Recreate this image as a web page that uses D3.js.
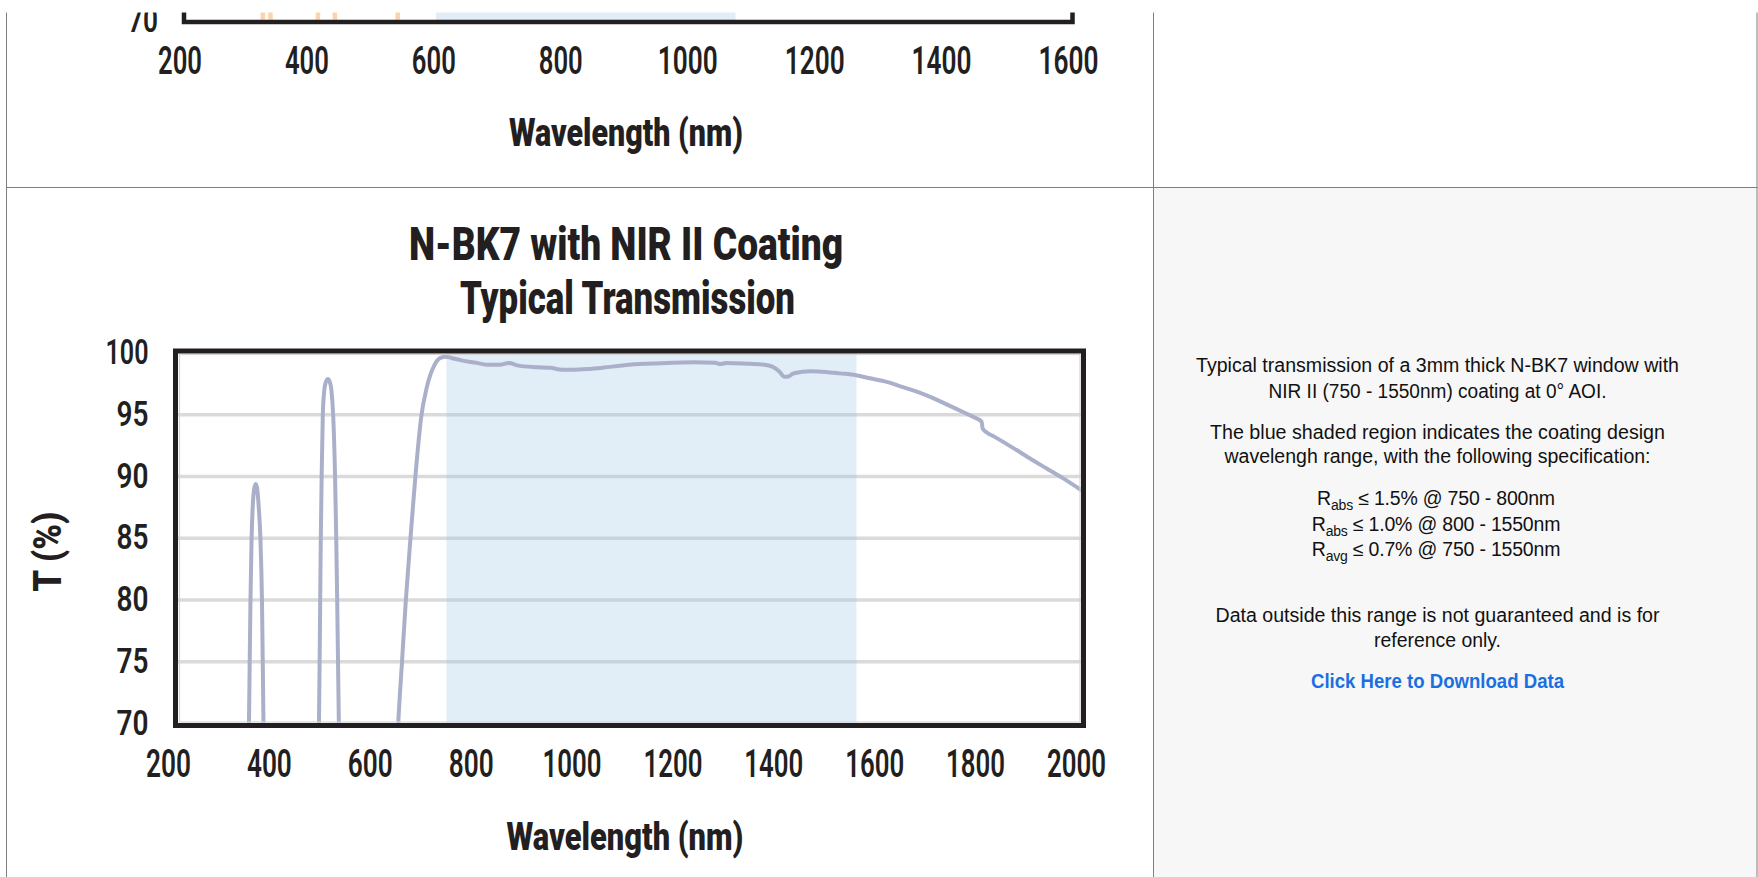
<!DOCTYPE html>
<html><head><meta charset="utf-8">
<script src="https://cdn.jsdelivr.net/npm/d3@7"></script>
<style>html,body{margin:0;padding:0;background:#fff;overflow:hidden}</style>
</head><body>
<svg id="c" width="1758" height="877"></svg>
<script>
// ---------- DATA ----------
const mainWavelength = [340,348.6,351.6,353.8,356,359,362,365,368,371.3,374.4,377.4,385,
  430,470,487.4,489.8,491,492.7,495,498,501.5,505,508.5,512,515.5,519.3,521.6,523.5,526.8,540,
  620,644.5,652,659.6,668.8,678.5,690,701,716,728,739,750,770,800,820,845,864,880,920,946,970,991,
  1020,1052,1080,1112,1150,1188,1230,1272,1283,1295,1340,1370,1386,1400,1410,1418,1427,1445,1461,
  1492,1520,1552,1580,1613,1640,1674,1705,1735,1765,1788,1801,1803,1810,1826,1860,1901,1930,1962,2000];
const mainTransmission = [55,70,80,85,87.5,89,89.4,89,87.5,85,80,70,55,
  40,50,70,80,85,90,95,97,97.7,97.9,97.7,97,95,90,85,80,70,50,
  40,70,75,80,85,90,94.8,97.2,99,99.6,99.7,99.6,99.4,99.2,99.05,99.05,99.2,99.0,98.85,98.8,98.65,98.65,
  98.7,98.82,98.95,99.09,99.15,99.22,99.25,99.22,99.1,99.2,99.12,99.05,98.9,98.5,98.07,98.1,98.33,98.48,98.52,
  98.47,98.35,98.2,97.95,97.66,97.3,96.86,96.35,95.78,95.2,94.76,94.44,93.9,93.6,93.23,92.4,91.35,90.65,89.87,88.86];
const mainShade = [740, 1553];
const mainXTicks = [200,400,600,800,1000,1200,1400,1600,1800,2000];
const mainYTicks = [70,75,80,85,90,95,100];
const mainGrid = [75,80,85,90,95];
const mainTitle = ["N-BK7 with NIR II Coating", "Typical Transmission"];
const xTitle = "Wavelength (nm)";
const yTitle = "T (%)";

// partially visible chart above (only its bottom edge shows)
const topWavelength = [316,324,330,336.5,343,380,410.7,424,438,452,500,536.6,546];
const topTransmission = [50,70,85,70,50,40,70,90,70,40,40,70,95];
const topShade = [597, 1069];
const topXTicks = [200,400,600,800,1000,1200,1400,1600];
const topYTicks = [70];

const panelLines = [
  {t:"Typical transmission of a 3mm thick N-BK7 window with", y:371.5, w:483},
  {t:"NIR II (750 - 1550nm) coating at 0° AOI.", y:397.5, w:338},
  {t:"The blue shaded region indicates the coating design", y:439, w:455},
  {t:"wavelengh range, with the following specification:", y:463, w:426},
  {t:"Data outside this range is not guaranteed and is for", y:621.5, w:444},
  {t:"reference only.", y:647, w:127}
];
const specLines = [
  {sub:"abs", rest:" ≤ 1.5% @ 750 - 800nm", y:504.5},
  {sub:"abs", rest:" ≤ 1.0% @ 800 - 1550nm", y:530.5},
  {sub:"avg", rest:" ≤ 0.7% @ 750 - 1550nm", y:555.5}
];
const linkText = "Click Here to Download Data";

// ---------- DRAW ----------
const svg = d3.select("#c");
const chartFont = "Roboto, 'Liberation Sans', Arial, sans-serif";
const panelFont = "'Liberation Sans', Arial, Helvetica, sans-serif";
const defs = svg.append("defs");
const ink = "#231f20";

// panel background
svg.append("rect").attr("x",1154).attr("y",188).attr("width",603).attr("height",689).attr("fill","#f7f7f7");

// ===== top (cut-off) chart =====
const xt = d3.scaleLinear().domain([200,1600]).range([184,1072.5]);
const yt = d3.scaleLinear().domain([70,100]).range([22,-348.5]);
defs.append("clipPath").attr("id","clipTop").append("rect")
  .attr("x",xt(200)+2.5).attr("y",-400).attr("width",xt(1600)-xt(200)-5).attr("height",400+yt(70)-2.2);
const gt = svg.append("g");
gt.append("rect").attr("x",xt(topShade[0])).attr("y",-10).attr("width",xt(topShade[1])-xt(topShade[0]))
  .attr("height",yt(70)+10).attr("fill","#9cc3e6").attr("opacity",0.3);
const topLine = d3.line().x((d,i)=>xt(topWavelength[i])).y((d,i)=>yt(topTransmission[i]));
gt.append("path").datum(topWavelength).attr("d",topLine).attr("fill","none")
  .attr("stroke","#fbd4ad").attr("stroke-width",4.5).attr("clip-path","url(#clipTop)");
gt.append("path").attr("d",`M${xt(200)},-20V${yt(70)}H${xt(1600)}V-20`)
  .attr("fill","none").attr("stroke",ink).attr("stroke-width",4.5);
gt.selectAll("text.yt").data(topYTicks).enter().append("text")
  .attr("x",158).attr("y",d=>yt(d)+10).attr("text-anchor","end")
  .attr("font-family",chartFont).attr("font-weight",600).attr("font-size",35).attr("fill",ink)
  .attr("textLength",30).attr("lengthAdjust","spacingAndGlyphs").text(d=>d);
gt.selectAll("text.xt").data(topXTicks).enter().append("text")
  .attr("x",d=>xt(d)-4).attr("y",74).attr("text-anchor","middle")
  .attr("font-family",chartFont).attr("font-weight",600).attr("font-size",38).attr("fill",ink)
  .attr("textLength",d=>d>=1000?60:44).attr("lengthAdjust","spacingAndGlyphs").text(d=>d);
gt.append("text").attr("x",626).attr("y",146).attr("text-anchor","middle")
  .attr("font-family",chartFont).attr("font-weight",900).attr("font-size",38).attr("fill",ink)
  .attr("textLength",234).attr("lengthAdjust","spacingAndGlyphs").text(xTitle);

// ===== main chart =====
const x = d3.scaleLinear().domain([200,2000]).range([174,1082]);
const y = d3.scaleLinear().domain([70,100]).range([723.5,353]);
const g = svg.append("g");

g.selectAll("line.grid").data(mainGrid).enter().append("line")
  .attr("x1",x(200)+3).attr("x2",x(2000)-1).attr("y1",d=>y(d)).attr("y2",d=>y(d))
  .attr("stroke","#dadada").attr("stroke-width",3.3);
g.append("rect").attr("x",x(mainShade[0])).attr("y",y(100)).attr("width",x(mainShade[1])-x(mainShade[0]))
  .attr("height",y(70)-y(100)).attr("fill","#9cc3e6").attr("opacity",0.3);

defs.append("clipPath").attr("id","clipMain").append("rect")
  .attr("x",x(200)+4).attr("y",y(100)).attr("width",x(2000)-x(200)-2.5).attr("height",y(70)-y(100)-0.5);
const line = d3.line().x((d,i)=>x(mainWavelength[i])).y((d,i)=>y(mainTransmission[i])).curve(d3.curveMonotoneX);
g.append("path").datum(mainWavelength).attr("d",line).attr("fill","none")
  .attr("stroke","#aab0c9").attr("stroke-width",4).attr("stroke-linejoin","round")
  .attr("clip-path","url(#clipMain)");

// frame
g.append("rect").attr("x",x(200)+5.5).attr("y",y(100)+1.5).attr("width",x(2000)-x(200)-7.5)
  .attr("height",y(70)-y(100)-3).attr("fill","none").attr("stroke","#d4d4d4").attr("stroke-width",1.2);
g.append("rect").attr("x",x(200)+1.5).attr("y",y(100)-2).attr("width",x(2000)-x(200))
  .attr("height",y(70)-y(100)+4).attr("fill","none").attr("stroke",ink).attr("stroke-width",5);

// ticks
g.selectAll("text.yk").data(mainYTicks).enter().append("text")
  .attr("x",148.5).attr("y",d=>y(d)+11).attr("text-anchor","end")
  .attr("font-family",chartFont).attr("font-weight",600).attr("font-size",35).attr("fill",ink)
  .attr("textLength",d=>d>=100?43:32).attr("lengthAdjust","spacingAndGlyphs").text(d=>d);
g.selectAll("text.xk").data(mainXTicks).enter().append("text")
  .attr("x",d=>x(d)-5.5).attr("y",777).attr("text-anchor","middle")
  .attr("font-family",chartFont).attr("font-weight",600).attr("font-size",38).attr("fill",ink)
  .attr("textLength",d=>d>=1000?59:45).attr("lengthAdjust","spacingAndGlyphs").text(d=>d);

// titles
g.append("text").attr("x",625).attr("y",850).attr("text-anchor","middle")
  .attr("font-family",chartFont).attr("font-weight",900).attr("font-size",38).attr("fill",ink)
  .attr("textLength",237).attr("lengthAdjust","spacingAndGlyphs").text(xTitle);
g.append("text").attr("transform","translate(61,551.7) rotate(-90)").attr("text-anchor","middle")
  .attr("font-family",chartFont).attr("font-weight",900).attr("font-size",38).attr("fill",ink)
  .attr("textLength",80).attr("lengthAdjust","spacingAndGlyphs").text(yTitle);
g.append("text").attr("x",626).attr("y",259.5).attr("text-anchor","middle")
  .attr("font-family",chartFont).attr("font-weight",900).attr("font-size",47).attr("fill",ink)
  .attr("textLength",434).attr("lengthAdjust","spacingAndGlyphs").text(mainTitle[0]);
g.append("text").attr("x",627.5).attr("y",314).attr("text-anchor","middle")
  .attr("font-family",chartFont).attr("font-weight",900).attr("font-size",47).attr("fill",ink)
  .attr("textLength",335).attr("lengthAdjust","spacingAndGlyphs").text(mainTitle[1]);

// ===== description panel =====
const p = svg.append("g").attr("font-family",panelFont).attr("fill","#111");
p.selectAll("text.pl").data(panelLines).enter().append("text")
  .attr("x",1437.5).attr("y",d=>d.y).attr("text-anchor","middle").attr("font-size",19.5)
  .attr("textLength",d=>d.w).attr("lengthAdjust","spacingAndGlyphs").text(d=>d.t);
specLines.forEach(s=>{
  const t = p.append("text").attr("x",1436).attr("y",s.y).attr("text-anchor","middle")
    .attr("font-size",19.5).attr("letter-spacing",-0.2);
  t.append("tspan").text("R");
  t.append("tspan").attr("font-size",14).attr("dy",5).text(s.sub);
  t.append("tspan").attr("dy",-5).text(s.rest);
});
p.append("text").attr("x",1437.5).attr("y",688).attr("text-anchor","middle").attr("font-size",19.5)
  .attr("font-weight",700).attr("fill","#1c6fe0")
  .attr("textLength",253).attr("lengthAdjust","spacingAndGlyphs").text(linkText);

// white strip at very top (page cut)
svg.append("rect").attr("x",0).attr("y",0).attr("width",1758).attr("height",12.5).attr("fill","#fff");

// table borders
const bc = "#7f7f7f";
[[6.5,12.5,6.5,877],[1153.5,12.5,1153.5,877],[1757,12.5,1757,877],[6,187.5,1757.5,187.5]].forEach(l=>{
  svg.append("line").attr("x1",l[0]).attr("y1",l[1]).attr("x2",l[2]).attr("y2",l[3])
    .attr("stroke",bc).attr("stroke-width",1);
});
</script>
</body></html>
